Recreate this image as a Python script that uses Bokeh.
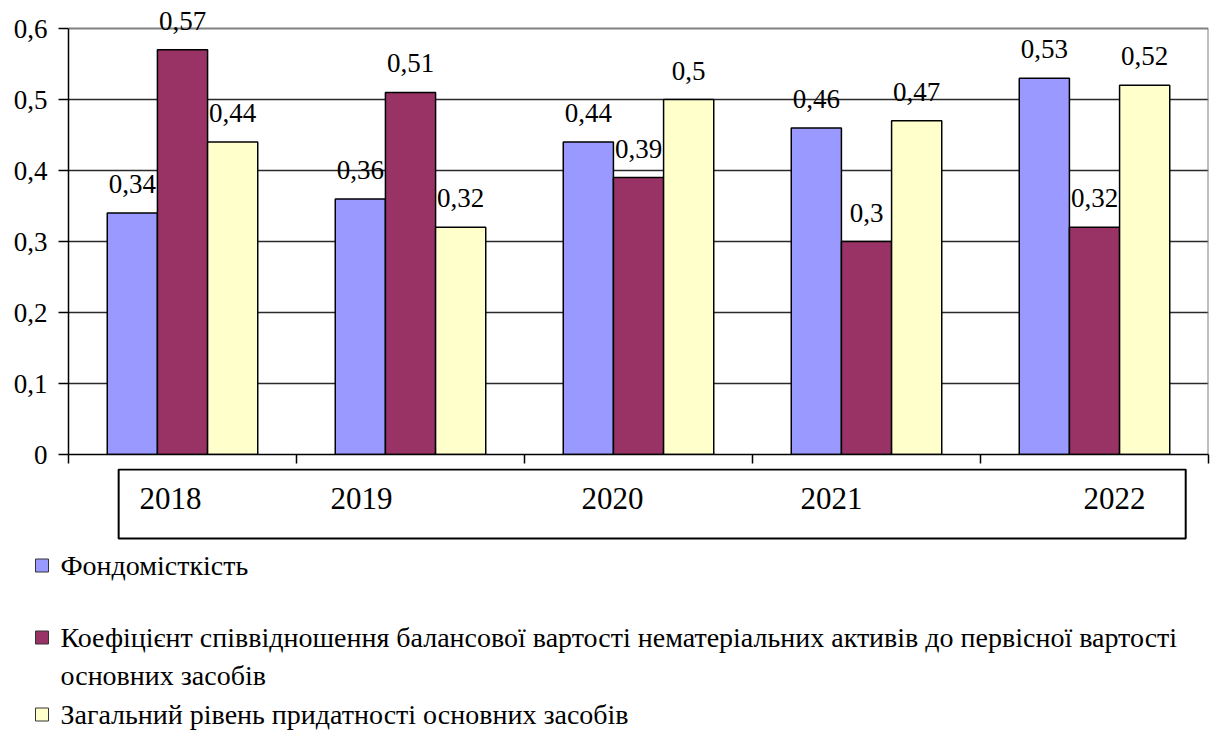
from bokeh.plotting import figure
from bokeh.models import (ColumnDataSource, Range1d, FixedTicker, CustomJSTickFormatter,
                          LinearAxis, Grid)
from bokeh.layouts import column
from bokeh.embed import file_html
from bokeh.resources import INLINE
from bokeh.core.properties import value

# ---------------- data ----------------
years = ["2018", "2019", "2020", "2021", "2022"]
fondomistkist = [0.34, 0.36, 0.44, 0.46, 0.53]
koeficient = [0.57, 0.51, 0.39, 0.30, 0.32]
zahalnyi_riven = [0.44, 0.32, 0.50, 0.47, 0.52]
series_names = [
    "Фондомісткість",
    "Коефіцієнт співвідношення балансової вартості нематеріальних активів до первісної вартості\nосновних засобів",
    "Загальний рівень придатності основних засобів",
]
y_ticks = [0, 0.1, 0.2, 0.3, 0.4, 0.5, 0.6]

# ---------------- styles ----------------
colors = ["#9999FF", "#993366", "#FFFFCC"]
FONT = "'Liberation Serif', 'Times New Roman', serif"
W = 1210
TOTAL_H = 730
LEFT, RIGHT = 68, 2
FRAME_W = W - LEFT - RIGHT
TOP_PAD = 28          # px of frame above the 0.6 line
PLOT_H = 426          # px from 0 to 0.6
BOTTOM = 14
H1 = TOP_PAD + PLOT_H + BOTTOM
H2 = TOTAL_H - H1
BAR_W = 0.22
year_offsets_px = [-12, -49, -26, -35, 20]
ppu = PLOT_H / 0.6

# ---------------- main chart ----------------
p1 = figure(width=W, height=H1, x_range=Range1d(0, 5),
            y_range=Range1d(0, 0.6 + TOP_PAD / ppu),
            output_backend="svg", toolbar_location=None,
            min_border_left=LEFT, min_border_right=RIGHT, min_border_top=0,
            min_border_bottom=BOTTOM, x_axis_location=None, y_axis_location=None)
p1.grid.visible = False
p1.outline_line_color = None
p1.background_fill_color = "white"
p1.border_fill_color = "white"

p1.add_layout(Grid(dimension=1, ticker=FixedTicker(ticks=y_ticks[1:-1]),
                   grid_line_color="#2a2a2a", grid_line_width=1.5))
p1.add_layout(Grid(dimension=1, ticker=FixedTicker(ticks=[y_ticks[-1]]),
                   grid_line_color="#808080", grid_line_width=2))

yaxis = LinearAxis(ticker=FixedTicker(ticks=y_ticks), bounds=(0, 0.6),
                   formatter=CustomJSTickFormatter(
                       code="return tick == 0 ? '0' : tick.toFixed(1).replace('.', ',');"),
                   major_tick_out=10, major_tick_in=0, minor_tick_out=0, minor_tick_in=0,
                   major_label_standoff=11,
                   axis_line_color="black", axis_line_width=1.5,
                   major_tick_line_color="black", major_tick_line_width=1.5,
                   major_label_text_font=FONT, major_label_text_font_size="27px",
                   major_label_text_color="black")
p1.add_layout(yaxis, "left")

xaxis = LinearAxis(ticker=FixedTicker(ticks=[0, 1, 2, 3, 4, 5]),
                   formatter=CustomJSTickFormatter(code="return '';"),
                   major_tick_out=9, major_tick_in=0, minor_tick_out=0, minor_tick_in=0,
                   major_label_text_font_size="0px", major_label_standoff=0,
                   axis_line_color="black", axis_line_width=1.5,
                   major_tick_line_color="black", major_tick_line_width=1.5)
p1.add_layout(xaxis, "below")

# right border of the plot area
p1.segment(x0=[5], y0=[0], x1=[5], y1=[0.6], line_color="#808080", line_width=2)

series = [fondomistkist, koeficient, zahalnyi_riven]
offsets = [-BAR_W, 0.0, BAR_W]
for vals, col, off in zip(series, colors, offsets):
    src = ColumnDataSource(dict(
        x=[i + 0.5 + off for i in range(len(years))],
        top=vals,
        label=[("%g" % v).replace(".", ",") for v in vals],
    ))
    p1.vbar(x="x", top="top", bottom=0, width=BAR_W, source=src,
            fill_color=col, line_color="black", line_width=1.5)
    p1.text(x="x", y="top", text="label", source=src, y_offset=-29,
            text_align="center", text_baseline="middle",
            text_font=value(FONT), text_font_size="27px", text_color="black")

# ---------------- category box + legend ----------------
p2 = figure(width=W, height=H2, x_range=Range1d(0, W), y_range=Range1d(H2, 0),
            output_backend="svg", toolbar_location=None, min_border=0,
            x_axis_location=None, y_axis_location=None)
p2.grid.visible = False
p2.outline_line_color = None
for p in (p1, p2):
    try:
        p.frame_align = False
    except Exception:
        pass

gw = FRAME_W / len(years)
p2.quad(left=[LEFT + 0.22 * gw], right=[LEFT + 4.9 * gw], top=[1], bottom=[70],
        fill_color=None, line_color="black", line_width=2)
p2.text(x=[LEFT + (i + 0.5) * gw + o for i, o in enumerate(year_offsets_px)],
        y=[30] * len(years), text=years, text_align="center", text_baseline="middle",
        text_font=value(FONT), text_font_size="31px", text_color="black")

item_y = [97, 169, 246]
line_gap = 38
lines = []
for name, y in zip(series_names, item_y):
    for k, part in enumerate(name.split("\n")):
        lines.append((part, y + k * line_gap))
p2.text(x=[60] * len(lines), y=[l[1] for l in lines], text=[l[0] for l in lines],
        text_align="left", text_baseline="middle",
        text_font=value(FONT), text_font_size="28px", text_color="black")
p2.rect(x=[41.5] * 3, y=item_y, width=13, height=13, fill_color=colors,
        line_color="#333333", line_width=1)

layout = column(p1, p2, spacing=0)
open("out.html", "w").write(file_html(layout, INLINE))
